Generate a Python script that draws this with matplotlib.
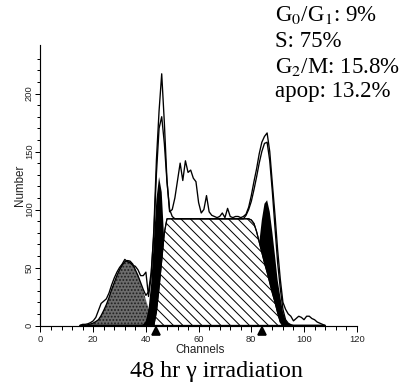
import numpy as np
import matplotlib
matplotlib.use("Agg")
import matplotlib.pyplot as plt
from matplotlib.ticker import FixedLocator
from matplotlib.transforms import blended_transform_factory, IdentityTransform
from matplotlib.patches import Polygon
from matplotlib.collections import LineCollection

# ---------------- data ----------------
channels = list(range(15, 109))

raw = [0, 1, 1, 1.5, 2.5, 4, 7, 13, 19, 21,
       23, 28, 35, 41, 46, 50, 53, 57, 55, 54,
       52, 51, 48, 43, 43, 46, 25, 42, 82, 143,
       185, 217, 175, 125, 98, 100, 110, 125, 140, 125,
       142, 132, 134, 127, 124, 106, 97, 100, 112, 98,
       95, 94, 93, 94, 97, 93, 101, 94, 93, 94,
       94, 93, 94, 96, 102, 112, 124, 135, 148, 158,
       163, 166, 150, 122, 95, 65, 40, 20, 14, 10,
       8, 4, 6, 8, 7, 5, 8, 8, 6, 5,
       3, 2, 1, 0]

fit = [0, 0, 0, 0.7, 1.3, 2.1, 3.4, 5, 8.5, 13,
       18, 24, 31, 37, 43, 48, 52, 55, 56, 55.5,
       53, 48, 43, 37, 31, 26, 29, 46, 78, 131,
       170, 180, 157, 124, 100, 94, 92, 92, 92, 92,
       92, 92, 92, 92, 92, 92, 92, 92, 92, 92,
       92, 92, 92, 92, 92, 92, 92, 92, 92, 92,
       92, 92, 92, 95, 100, 107, 117, 128, 140, 150,
       157, 158, 142, 115, 84, 54, 32, 14, 5, 2,
       0.7, 0, 0, 0, 0, 0, 0, 0, 0, 0,
       0, 0, 0, 0]

apop = [0, 0, 0, 0.7, 1.3, 2.1, 3.4, 5, 8.5, 13,
        18, 24, 31, 37, 43, 48, 52, 55, 56, 55.5,
        53, 48, 43, 37, 30, 22, 15, 10, 6, 4,
        2.5, 1.5, 0.8, 0, 0, 0, 0, 0, 0, 0,
        0, 0, 0, 0, 0, 0, 0, 0, 0, 0,
        0, 0, 0, 0, 0, 0, 0, 0, 0, 0,
        0, 0, 0, 0, 0, 0, 0, 0, 0, 0,
        0, 0, 0, 0, 0, 0, 0, 0, 0, 0,
        0, 0, 0, 0, 0, 0, 0, 0, 0, 0,
        0, 0, 0, 0]

g1 = [0, 0, 0, 0, 0, 0, 0, 0, 0, 0,
      0, 0, 0, 0, 0, 0, 0, 0, 0, 0,
      0, 0, 0, 0, 1, 4, 14, 36, 72, 109,
      128, 115, 72, 32, 8, 2, 0, 0, 0, 0,
      0, 0, 0, 0, 0, 0, 0, 0, 0, 0,
      0, 0, 0, 0, 0, 0, 0, 0, 0, 0,
      0, 0, 0, 0, 0, 0, 0, 0, 0, 0,
      0, 0, 0, 0, 0, 0, 0, 0, 0, 0,
      0, 0, 0, 0, 0, 0, 0, 0, 0, 0,
      0, 0, 0, 0]

s_phase = [0, 0, 0, 0, 0, 0, 0, 0, 0, 0,
           0, 0, 0, 0, 0, 0, 0, 0, 0, 0,
           0, 0, 0, 0, 0, 0, 0, 0, 0, 12,
           33, 56, 80, 92, 92, 92, 92, 92, 92, 92,
           92, 92, 92, 92, 92, 92, 92, 92, 92, 92,
           92, 92, 92, 92, 92, 92, 92, 92, 92, 92,
           92, 92, 92, 92, 92, 91, 88, 81, 72, 63,
           54, 46, 37, 28, 20, 11, 3, 0, 0, 0,
           0, 0, 0, 0, 0, 0, 0, 0, 0, 0,
           0, 0, 0, 0]

g2 = [0, 0, 0, 0, 0, 0, 0, 0, 0, 0,
      0, 0, 0, 0, 0, 0, 0, 0, 0, 0,
      0, 0, 0, 0, 0, 0, 0, 0, 0, 0,
      0, 0, 0, 0, 0, 0, 0, 0, 0, 0,
      0, 0, 0, 0, 0, 0, 0, 0, 0, 0,
      0, 0, 0, 0, 0, 0, 0, 0, 0, 0,
      0, 0, 1.4, 3.6, 8, 17, 30, 49, 71, 91,
      105, 108, 98, 80, 60, 39, 25, 12, 5, 2,
      0.7, 0, 0, 0, 0, 0, 0, 0, 0, 0,
      0, 0, 0, 0]

peak_markers = [44, 84]
x_major = [0, 20, 40, 60, 80, 100, 120]
y_major = [0, 50, 100, 150, 200]
stats_lines = ["G$_0$/G$_1$: 9%", "S: 75%", "G$_2$/M: 15.8%", "apop: 13.2%"]
caption = "48 hr \u03b3 irradiation"

for arr in (raw, fit, apop, g1, s_phase, g2):
    assert len(arr) == len(channels), len(arr)

# ---------------- figure ----------------
plt.rcParams["hatch.linewidth"] = 0.7
plt.rcParams["mathtext.fontset"] = "stix"
DPI = 120
fig = plt.figure(figsize=(414 / DPI, 382 / DPI), dpi=DPI)
ax = fig.add_axes([0.0978, 0.1479, 0.7638, 0.7348])
ax.set_xlim(0, 120)
ax.set_ylim(0, 242)

ax.fill_between(channels, apop, facecolor="#6c6c6c", edgecolor="#1e1e1e",
                hatch="......", linewidth=0, zorder=1)
ax.fill_between(channels, g1, facecolor="black", edgecolor="none", linewidth=0, zorder=2)
ax.fill_between(channels, g2, facecolor="black", edgecolor="none", linewidth=0, zorder=2)

# S-phase: white area with diagonal hatch lines clipped to its outline
s_verts = [(channels[0], 0)] + list(zip(channels, s_phase)) + [(channels[-1], 0)]
s_patch = Polygon(s_verts, closed=True, facecolor="white", edgecolor="black",
                  linewidth=0.7, zorder=3)
ax.add_patch(s_patch)
bb = ax.bbox
h = bb.y1 - bb.y0
step = 9.5
segs = [[(xs, bb.y1), (xs + h, bb.y0)] for xs in np.arange(bb.x0 - h, bb.x1, step)]
lc = LineCollection(segs, colors="black", linewidths=0.6,
                    transform=IdentityTransform(), zorder=3.2)
ax.add_collection(lc, autolim=False)
lc.set_clip_path(s_patch)
ax.add_patch(Polygon(s_verts, closed=True, facecolor="none", edgecolor="black",
                     linewidth=0.7, zorder=3.4))

ax.plot(channels, fit, color="black", linewidth=0.8, zorder=4)
ax.plot(channels, raw, color="black", linewidth=0.8, zorder=5)

trans = blended_transform_factory(ax.transData, ax.transAxes)
ax.plot(peak_markers, [-0.021] * len(peak_markers), linestyle="none", marker="^",
        markersize=4.8, color="black", transform=trans, clip_on=False, zorder=6)

for side in ("top", "right"):
    ax.spines[side].set_visible(False)
for side in ("left", "bottom"):
    ax.spines[side].set_linewidth(0.7)

ax.xaxis.set_major_locator(FixedLocator(x_major))
ax.xaxis.set_minor_locator(FixedLocator(list(range(0, 121, 4))))
ax.yaxis.set_major_locator(FixedLocator(y_major))
ax.yaxis.set_minor_locator(FixedLocator(list(range(0, 231, 10))))

tick_font = {"family": "Liberation Sans", "size": 5.6}
ax.set_xticklabels([str(v) for v in x_major], fontdict=tick_font, color="#222222")
ax.set_yticklabels([str(v) for v in y_major], fontdict=tick_font, color="#222222",
                   rotation=90, va="center")
ax.tick_params(axis="x", which="major", length=3.4, width=0.6, pad=2)
ax.tick_params(axis="x", which="minor", length=2.4, width=0.6)
ax.tick_params(axis="y", which="major", length=3.0, width=0.6, pad=1)
ax.tick_params(axis="y", which="minor", length=2.0, width=0.6)

fig.text(199.7 / 414, 1 - 353 / 382, "Channels", ha="center", va="baseline",
         family="Liberation Sans", fontsize=7, color="#222222")
fig.text(20 / 414, 1 - 185 / 382, "Number", ha="center", va="center", rotation=90,
         family="Liberation Sans", fontsize=7, color="#222222")

baselines = [21, 47, 73, 97.5]
for txt, yb in zip(stats_lines, baselines):
    fig.text(275 / 414, 1 - yb / 382, txt, ha="left", va="baseline",
             family="Liberation Serif", fontsize=13.7)

fig.text(216 / 414, 1 - 376.5 / 382, caption, ha="center", va="baseline",
         family="Liberation Serif", fontsize=14.5)

fig.savefig("out.png", dpi=DPI)
